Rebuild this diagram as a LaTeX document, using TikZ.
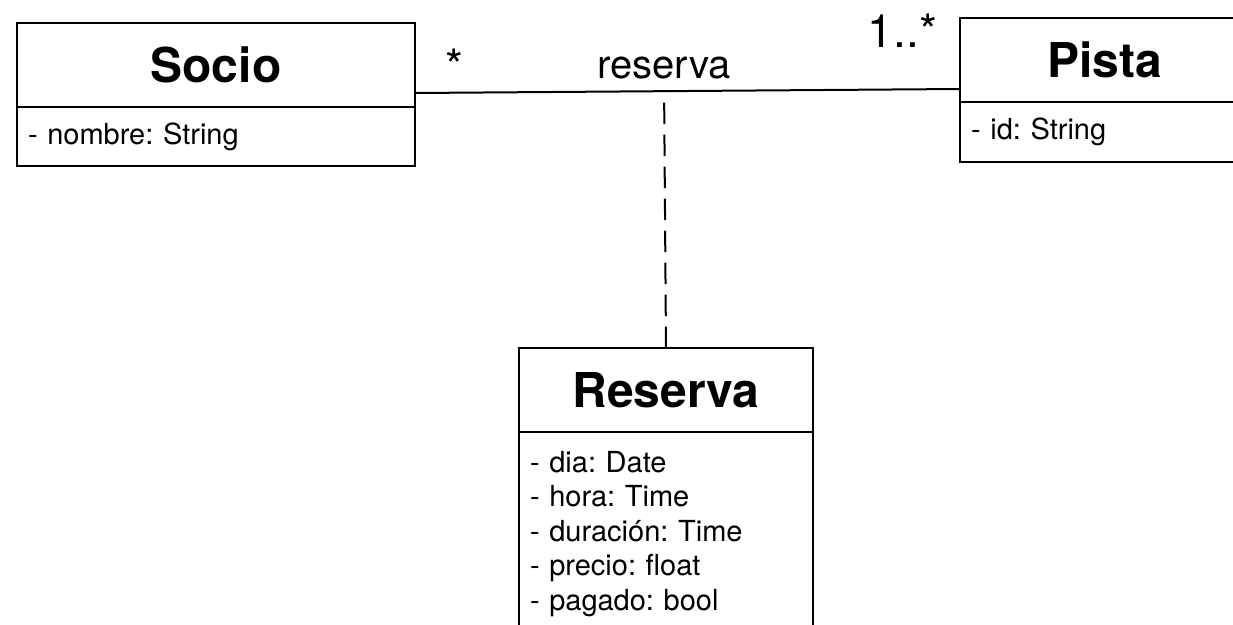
\documentclass[tikz,border=0pt]{standalone}
\usepackage{fontspec}
\setmainfont{TeX Gyre Heros}
\usetikzlibrary{positioning,calc}
\frenchspacing

\begin{document}
\begin{tikzpicture}[x=1pt, y=-1pt, line width=2pt, outer sep=0pt,
  head/.style={draw, inner sep=0pt, minimum height=84pt, font=\fontsize{48}{58}\selectfont\bfseries},
  attrs/.style={draw, inner xsep=11pt, inner ysep=0pt, align=left, font=\fontsize{29}{34.5}\selectfont},
  mult/.style={inner sep=0pt, font=\fontsize{46}{55}\selectfont},
  assoc/.style={inner sep=0pt, font=\fontsize{40}{48}\selectfont}]
  \useasboundingbox (0,0) rectangle (1233,624);
  \clip (0,0) rectangle (1233,624);
  \node[head, minimum width=398pt, anchor=north west] (socio) at (17,23) {Socio};
  \node[attrs, below=0pt of socio, minimum width=398pt, minimum height=59pt, text width=376pt] (socioAttr) {- nombre: String};
  \node[head, minimum width=290pt, anchor=north west] (pista) at (960,18) {Pista};
  \node[attrs, below=0pt of pista, minimum width=290pt, minimum height=60pt, text width=268pt] (pistaAttr) {- id: String};
  \node[head, minimum width=294pt, anchor=north west] (reserva) at (519,348) {Reserva};
  \node[attrs, below=0pt of reserva, minimum width=294pt, minimum height=204pt, text width=272pt] (reservaAttr)
    {- dia: Date\\- hora: Time\\- duración: Time\\- precio: float\\- pagado: bool};
  \coordinate (a1) at ([yshift=14pt]socio.south east);
  \coordinate (a2) at ([yshift=13pt]pista.south west);
  \coordinate (mid) at ($(a1)!(reserva.north)!(a2)$);
  \draw (a1) -- (a2);
  \draw[dash pattern=on 21.5pt off 10.5pt] (reserva.north) -- (mid);
  \node[mult, anchor=base west] (manySocio) at ([xshift=30pt, yshift=11pt]a1) {*};
  \node[mult, anchor=base east] (manyPista) at ([xshift=-23pt, yshift=42pt]a2) {1..*};
  \node[assoc, anchor=base] (assocName) at ([yshift=13pt]mid) {reserva};
\end{tikzpicture}
\end{document}
